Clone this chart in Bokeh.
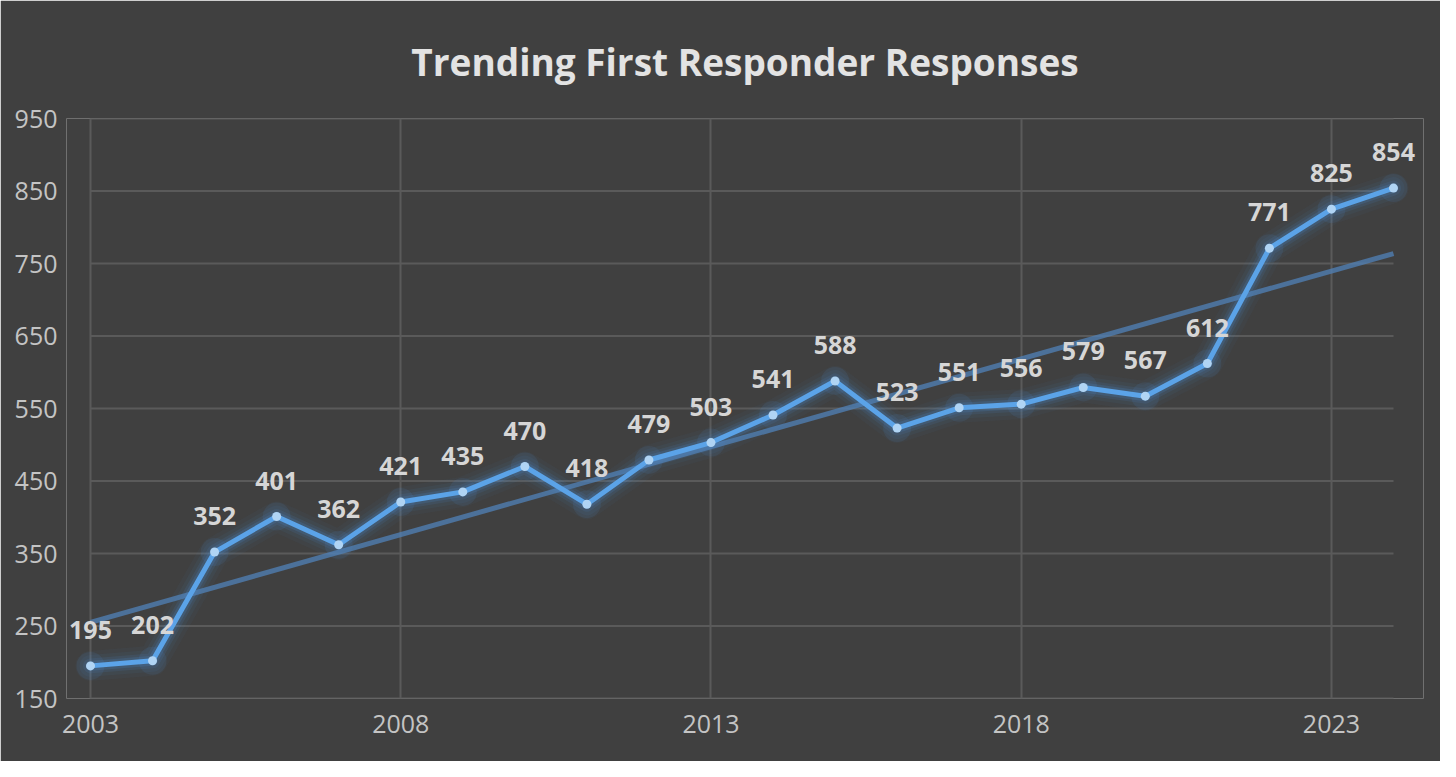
import numpy as np
from bokeh.plotting import figure
from bokeh.models import ColumnDataSource, FixedTicker, Range1d, Label
from bokeh.embed import file_html
from bokeh.resources import INLINE

years = list(range(2003, 2025))
responses = [195, 202, 352, 401, 362, 421, 435, 470, 418, 479, 503,
             541, 588, 523, 551, 556, 579, 567, 612, 771, 825, 854]
x_ticks = [2003, 2008, 2013, 2018, 2023]
y_ticks = [150, 250, 350, 450, 550, 650, 750, 850, 950]
title_text = "Trending First Responder Responses"

# linear trendline (least squares) from the data
coef = np.polyfit(years, responses, 1)
trend_x = [years[0], years[-1]]
trend_y = [float(np.polyval(coef, v)) for v in trend_x]

src = ColumnDataSource(dict(x=years, y=responses))

BG = "#404040"
GRID = "#5a5a5a"
FONT = "Open Sans"

# data area spans 2003..2024 (1303 px); pad the frame so end labels are not clipped
PX_PER_YEAR = 1303 / 21
PAD_L, PAD_R = 24, 30
x0 = years[0] - PAD_L / PX_PER_YEAR
x1 = years[-1] + PAD_R / PX_PER_YEAR

p = figure(width=1440, height=761, output_backend="svg", toolbar_location=None,
           x_range=Range1d(x0, x1), y_range=Range1d(y_ticks[0], y_ticks[-1]),
           background_fill_color=BG, border_fill_color=BG,
           min_border_left=90 - PAD_L, min_border_right=47 - PAD_R,
           min_border_top=118, min_border_bottom=63)

p.outline_line_color = BG
p.outline_line_alpha = 0
p.title.text = title_text
p.title.align = "center"
p.title.text_font = FONT
p.title.text_font_size = "37px"
p.title.text_font_style = "bold"
p.title.text_color = "#e3e3e3"
p.title.standoff = 64

for ax in (p.xaxis, p.yaxis):
    ax.axis_line_color = None
    ax.major_tick_line_color = None
    ax.minor_tick_line_color = None
    ax.major_label_text_font = FONT
    ax.major_label_text_font_size = "25px"
    ax.major_label_text_color = "#c4c4c4"
p.xaxis.ticker = FixedTicker(ticks=x_ticks)
p.yaxis.ticker = FixedTicker(ticks=y_ticks)
p.xaxis.major_label_standoff = 10
p.yaxis.major_label_standoff = 3

p.xgrid.ticker = FixedTicker(ticks=x_ticks)
p.xgrid.grid_line_color = GRID
p.xgrid.grid_line_width = 2
p.ygrid.visible = False

# horizontal gridlines limited to the data span
p.segment(x0=[years[0]] * len(y_ticks), x1=[years[-1]] * len(y_ticks),
          y0=y_ticks, y1=y_ticks, line_color=GRID, line_width=2)

# glow layers
for w, a in [(30, 0.04), (22, 0.06), (15, 0.10), (10, 0.16)]:
    p.line("x", "y", source=src, line_color="#4a94e0", line_width=w, line_alpha=a,
           line_join="round", line_cap="round")
p.scatter("x", "y", source=src, size=28, color="#4a94e0", alpha=0.10, line_color=None)

# trendline
p.line(trend_x, trend_y, line_color="#5082b8", line_width=5, line_alpha=0.75)

# main series
p.line("x", "y", source=src, line_color="#5ba3e8", line_width=5, line_join="round")
p.scatter("x", "y", source=src, size=9, color="#b0d4f4", line_color=None)

# data labels
for xv, yv in zip(years, responses):
    p.add_layout(Label(x=xv, y=yv, text=str(yv), text_align="center",
                       text_baseline="alphabetic", y_offset=36,
                       text_font=FONT, text_font_size="25px", text_font_style="bold",
                       text_color="#d6d6d6"))

open("out.html", "w").write(file_html(p, INLINE))
